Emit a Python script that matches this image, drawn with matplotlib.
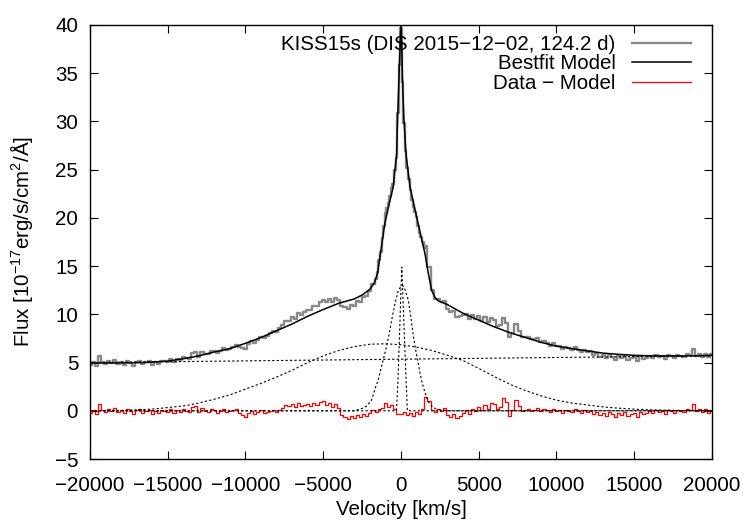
import numpy as np
import matplotlib
matplotlib.use("Agg")
import matplotlib.pyplot as plt

plt.rcParams['font.family'] = ['Liberation Sans', 'DejaVu Sans']
plt.rcParams['mathtext.fontset'] = 'custom'
plt.rcParams['mathtext.rm'] = 'Liberation Sans'
plt.rcParams['mathtext.it'] = 'Liberation Sans'

# Bestfit model (solid black)
model_v = [-20000, -18000, -16500, -15000, -14000, -13000, -12000, -11000, -10000, -9000, -8000, -7000, -6000, -5000,
           -4000, -3000, -2500, -2000, -1700, -1500, -1350, -1030, -750, -500, -280, -220, -150, -80, 0, 60, 110, 190,
           320, 580, 1050, 1300, 1540, 1750, 1970, 2200, 2400, 3000, 4000, 5000, 6000, 7000, 8000, 9000, 10000, 11000,
           12000, 13000, 14000, 15000, 16000, 17000, 18000, 19000, 20000]
model_f = [4.95, 4.97, 5.0, 5.15, 5.4, 5.7, 6.1, 6.45, 7.0, 7.6, 8.3, 9.0, 9.8, 10.5,
           11.15, 11.6, 12.0, 12.6, 13.3, 14.3, 16.0, 19.5, 21.5, 23.2, 26.7, 30.2, 33.6, 37.0, 40.0, 37.0, 33.6, 30.2,
           26.7, 23.2, 19.8, 18.0, 16.3, 14.3, 12.5, 11.7, 11.4, 11.0, 10.1, 9.4, 8.7, 8.1, 7.6, 7.1, 6.7, 6.45,
           6.2, 5.98, 5.85, 5.75, 5.7, 5.68, 5.68, 5.7, 5.75]

# Observed spectrum (grey steps): 200 km/s bins in the wings, 100 km/s bins in the core
data_v = list(range(-20000, -1599, 200)) + list(range(-1500, 1501, 100)) + list(range(1600, 20001, 200))
data = [4.75, 5.05, 4.65, 5.66, 5.06, 4.86, 5.16, 4.96, 5.27, 4.87,
        5.07, 4.77, 5.18, 4.98, 4.69, 5.09, 5.19, 4.8, 5.01, 5.13,
        4.75, 5.07, 4.89, 5.21, 5.13, 5.05, 5.4, 5.05, 5.4, 5.25,
        5.6, 5.46, 5.42, 5.98, 6.14, 5.6, 6.08, 5.86, 5.84, 6.22,
        6.2, 5.97, 6.24, 6.51, 6.28, 6.45, 6.66, 6.87, 6.58, 6.49,
        6.4, 6.92, 7.24, 7.06, 7.38, 7.7, 7.54, 7.78, 8.02, 8.26,
        8.2, 8.54, 8.88, 9.32, 9.36, 9.7, 9.56, 10.12, 9.98, 10.24,
        10.5, 10.44, 10.88, 10.82, 11.26, 11.5, 11.23, 11.56, 11.29, 11.72,
        11.45, 10.84, 10.73, 10.52, 11.01, 10.9, 11.36, 11.32, 11.82, 11.86,
        12.4, 13.17, 13.7,
        14.4, 15.6, 16.5, 17.9, 19.2, 20.5, 21.0, 21.5, 22.3, 23.1, 23.5, 25.0, 26.2, 30.9, 35.8, 39.7,
        34.1, 29.8, 26.9, 25.2, 24.0, 22.85, 21.9, 21.1, 20.6, 20.1, 19.2, 18.4, 18.0, 17.5, 16.9,
        17.13, 14.89,
        12.5, 11.6, 11.6, 11.27, 11.43, 10.6, 10.22, 10.34, 9.76, 9.78,
        9.9, 10.06, 9.52, 9.88, 9.54, 9.8, 9.36, 9.72, 9.18, 9.64,
        9.4, 8.78, 8.86, 9.64, 9.12, 7.6, 8.1, 9.0, 8.3, 7.7,
        7.7, 7.7, 7.4, 7.4, 7.5, 7.1, 7.22, 7.04, 6.76, 6.98,
        6.7, 6.75, 6.4, 6.65, 6.5, 6.35, 6.6, 6.35, 6.1, 6.35,
        6.1, 6.16, 5.81, 5.97, 5.62, 5.78, 5.45, 5.83, 5.6, 5.28,
        5.65, 5.43, 5.71, 5.29, 5.47, 5.55, 5.14, 5.63, 5.42, 5.51,
        5.7, 5.5, 5.79, 5.59, 5.68, 5.38, 5.78, 5.68, 5.48, 5.78,
        5.68, 5.58, 5.89, 5.79, 6.4, 5.7, 5.91, 5.62, 5.93, 5.54,
        5.85]

# Residual (red steps), 200 km/s bins
resid_v = list(range(-20000, 20001, 200))
resid = [-0.2, 0.1, -0.3, 0.7, 0.1, -0.1, 0.2, 0.0, 0.3, -0.1,
         0.1, -0.2, 0.2, 0.0, -0.3, 0.1, 0.2, -0.2, 0.0, 0.1,
         -0.3, 0.0, -0.2, 0.1, 0.0, -0.1, 0.2, -0.2, 0.1, -0.1,
         0.2, 0.0, -0.1, 0.4, 0.5, -0.1, 0.3, 0.0, -0.1, 0.2,
         0.1, -0.2, 0.0, 0.2, -0.1, 0.0, 0.1, 0.2, -0.2, -0.4,
         -0.6, -0.2, 0.0, -0.3, -0.1, 0.1, -0.2, -0.1, 0.0, 0.1,
         -0.1, 0.1, 0.3, 0.6, 0.5, 0.7, 0.4, 0.8, 0.5, 0.6,
         0.7, 0.5, 0.8, 0.6, 0.9, 1.0, 0.6, 0.8, 0.4, 0.7,
         0.3, -0.4, -0.6, -0.9, -0.5, -0.7, -0.4, -0.6, -0.3, -0.5,
         -0.2, 0.1, -0.1, 0.2, 0.3, 0.8, 0.4, 0.6, 0.2, -0.3,
         -0.3, -0.1, -0.4, -0.2, -0.5, -0.1, -0.3, 0.2, 1.4, 1.0,
         0.1, -0.1, 0.2, 0.0, 0.3, -0.4, -0.6, -0.3, -0.7, -0.5,
         -0.2, 0.1, -0.3, 0.2, 0.0, 0.4, 0.1, 0.6, 0.2, 0.8,
         0.7, 0.2, 0.4, 1.3, 0.9, -0.5, 0.1, 1.1, 0.5, 0.0,
         0.1, 0.2, 0.0, 0.1, 0.3, 0.0, 0.2, 0.1, -0.1, 0.2,
         0.0, 0.1, -0.2, 0.1, 0.0, -0.1, 0.2, 0.0, -0.2, 0.1,
         -0.1, 0.0, -0.3, -0.1, -0.4, -0.2, -0.5, -0.1, -0.3, -0.6,
         -0.2, -0.4, -0.1, -0.5, -0.3, -0.2, -0.6, -0.1, -0.3, -0.2,
         0.0, -0.2, 0.1, -0.1, 0.0, -0.3, 0.1, 0.0, -0.2, 0.1,
         0.0, -0.1, 0.2, 0.1, 0.7, 0.0, 0.2, -0.1, 0.2, -0.2, 0.1]

# Model components (dotted)
cont_v = [-20000, 20000]
cont_f = [5.0, 5.7]
broad_v = [-20000, -18000, -16000, -14000, -13000, -12000, -11000, -10000, -9000, -8000, -7000, -6000, -5000, -4000,
           -3000, -2000, -1000, 0, 1000, 2000, 3000, 4000, 5000, 6000, 7000, 8000, 9000, 10000, 11000, 12000, 13000,
           14000, 15000, 16000, 18000, 20000]
broad_f = [0.0, 0.03, 0.17, 0.5, 0.8, 1.2, 1.65, 2.25, 2.85, 3.5, 4.2, 5.0, 5.7, 6.25,
           6.65, 6.9, 6.95, 6.85, 6.6, 6.25, 5.75, 5.2, 4.4, 3.55, 2.75, 2.1, 1.55, 1.1, 0.8, 0.6, 0.4,
           0.27, 0.17, 0.1, 0.03, 0.01]
mid_v = [-20000, -3000, -2500, -2200, -1900, -1600, -1460, -1300, -1030, -800, -600, -400, -170, 0, 110, 250, 470,
         650, 800, 1000, 1110, 1300, 1430, 1600, 1750, 2000, 2190, 2500, 3000, 20000]
mid_f = [0.0, 0.0, 0.25, 0.5, 1.1, 2.6, 3.2, 4.3, 6.0, 7.6, 9.4, 11.0, 12.5, 12.9, 13.0, 12.6, 11.5,
         9.5, 7.7, 5.8, 4.9, 3.3, 2.5, 1.6, 0.94, 0.45, 0.25, 0.1, 0.0, 0.0]
narrow_v = [-20000, -290, -200, -100, 0, 50, 120, 200, 300, 410, 20000]
narrow_f = [0.0, 0.0, 3.0, 7.5, 12.7, 14.9, 12.0, 8.5, 4.3, 0.0, 0.0]

legend_labels = ['KISS15s (DIS 2015\u221212\u221202, 124.2 d)', 'Bestfit Model', 'Data \u2212 Model']
x_ticks = [-20000, -15000, -10000, -5000, 0, 5000, 10000, 15000, 20000]
y_ticks = [-5, 0, 5, 10, 15, 20, 25, 30, 35, 40]

FS = 14.8
fig = plt.figure(figsize=(7.5, 5.25), dpi=100)
ax = fig.add_axes([0.12, 0.1257, 0.8293, 0.8267])

l1, = ax.step(data_v, data, where='mid', color='#888888', lw=1.7, label=legend_labels[0])
l2, = ax.plot(model_v, model_f, color='black', lw=1.1, label=legend_labels[1])
l3, = ax.step(resid_v, resid, where='mid', color='#ff0000', lw=0.9, label=legend_labels[2])
for vv, ff in [(cont_v, cont_f), (broad_v, broad_f), (mid_v, mid_f), (narrow_v, narrow_f)]:
    ax.plot(vv, ff, color='black', lw=0.8, dashes=(2, 2))

ax.set_xlim(-20000, 20000)
ax.set_ylim(-5, 40)
ax.set_xticks(x_ticks)
ax.set_yticks(y_ticks)
ax.tick_params(direction='in', top=True, right=True, length=6, width=0.8, labelsize=FS)
ax.tick_params(axis='x', pad=12)
ax.tick_params(axis='y', pad=8.5)
for s in ax.spines.values():
    s.set_linewidth(1.0)
ax.set_xlabel('Velocity [km/s]', fontsize=FS, labelpad=4)
ax.set_ylabel('Flux [10$^{\u221217}$erg/s/cm$^{2}$/\u00c5]', fontsize=FS, labelpad=14)

ax.legend(handles=[l1, l2, l3], loc='upper right', bbox_to_anchor=(0.967, 0.977), frameon=False,
          markerfirst=False, handlelength=2.9, handletextpad=0.8, labelspacing=0.02, borderpad=0,
          borderaxespad=0, fontsize=FS)

fig.savefig('out.png', dpi=100)
